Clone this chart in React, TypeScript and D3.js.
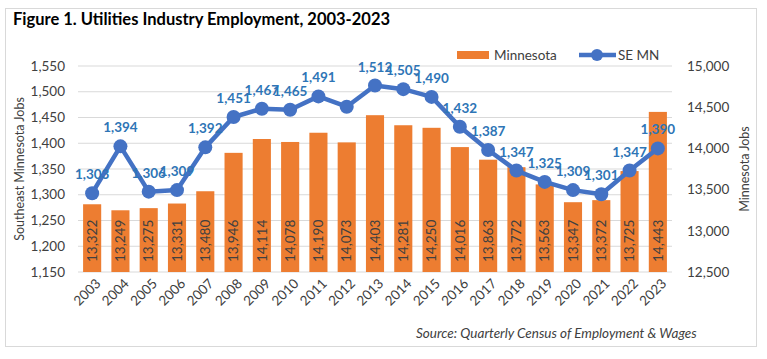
import * as d3 from 'd3'

// values
const years = ['2003', '2004', '2005', '2006', '2007', '2008', '2009', '2010', '2011', '2012', '2013',
  '2014', '2015', '2016', '2017', '2018', '2019', '2020', '2021', '2022', '2023']
const minnesota = [13322, 13249, 13275, 13331, 13480, 13946, 14114, 14078, 14190, 14073, 14403,
  14281, 14250, 14016, 13863, 13772, 13563, 13347, 13372, 13725, 14443]
const seMN = [1303, 1394, 1306, 1309, 1392, 1451, 1467, 1465, 1491, 1471, 1512,
  1505, 1490, 1432, 1387, 1347, 1325, 1309, 1301, 1347, 1390]
// the 2012 point has no label in the original
const unlabeledYears = ['2012']
const leftTicks = [1150, 1200, 1250, 1300, 1350, 1400, 1450, 1500, 1550]
const rightTicks = [12500, 13000, 13500, 14000, 14500, 15000]

const W = 767
const H = 359
const FONT = 'Lato, "Liberation Sans", sans-serif'
const ORANGE = '#ED7D31'
const BLUE = '#4472C4'
const LABEL_BLUE = '#2E75B6'
const GRID = '#D9D9D9'
const TEXT = '#404040'

export default function App() {
  const plot = { left: 78, right: 672, top: 66, bottom: 272 }
  const fmt = d3.format(',')

  const x = d3.scaleBand().domain(years).range([plot.left, plot.right]).paddingInner(0.36).paddingOuter(0.18)
  const yL = d3.scaleLinear().domain([1150, 1550]).range([plot.bottom, plot.top])
  const yR = d3.scaleLinear().domain([12500, 15000]).range([plot.bottom, plot.top])
  const cx = (yr: string) => (x(yr) ?? 0) + x.bandwidth() / 2

  const line = d3.line<number>()
    .x((_, i) => cx(years[i]))
    .y(d => yL(d))

  return (
    <svg width={W} height={H} style={{ position: 'absolute', left: 0, top: 0, background: '#fff' }}
      fontFamily={FONT}>
      <rect x={5.5} y={8.5} width={751} height={338} fill="#fff" stroke={GRID} />

      <text x={13} y={25} fontSize={16.5} fontWeight={700} fill="#000">
        Figure 1. Utilities Industry Employment, 2003-2023
      </text>

      {/* gridlines */}
      {leftTicks.map(t => (
        <line key={t} x1={plot.left} x2={plot.right} y1={yL(t)} y2={yL(t)} stroke={GRID} strokeWidth={1} />
      ))}

      {/* left axis */}
      {leftTicks.map(t => (
        <text key={t} x={65} y={yL(t)} dy="0.35em" textAnchor="end" fontSize={13.5} fill={TEXT}>{fmt(t)}</text>
      ))}
      <text transform={`translate(20,${(plot.top + plot.bottom) / 2}) rotate(-90)`} textAnchor="middle"
        dy="0.35em" fontSize={12.5} fill={TEXT}>Southeast Minnesota Jobs</text>

      {/* right axis */}
      {rightTicks.map(t => (
        <text key={t} x={687} y={yR(t)} dy="0.35em" textAnchor="start" fontSize={13.5} fill={TEXT}>{fmt(t)}</text>
      ))}
      <text transform={`translate(745,${(plot.top + plot.bottom) / 2}) rotate(-90)`} textAnchor="middle"
        dy="0.35em" fontSize={12.5} fill={TEXT}>Minnesota Jobs</text>

      {/* bars */}
      {years.map((yr, i) => (
        <rect key={yr} x={x(yr)} y={yR(minnesota[i])} width={x.bandwidth()}
          height={plot.bottom - yR(minnesota[i])} fill={ORANGE} />
      ))}
      {years.map((yr, i) => (
        <text key={yr} transform={`translate(${cx(yr)},${plot.bottom - 10}) rotate(-90)`}
          dy="0.35em" textAnchor="start" fontSize={13.5} fill={TEXT}>{fmt(minnesota[i])}</text>
      ))}

      {/* x labels */}
      {years.map(yr => (
        <text key={yr} transform={`translate(${cx(yr) + 6},${plot.bottom + 9}) rotate(-45)`}
          textAnchor="end" dy="0.35em" fontSize={13.5} fill={TEXT}>{yr}</text>
      ))}

      {/* SE MN line */}
      <path d={line(seMN) ?? ''} fill="none" stroke={BLUE} strokeWidth={4.5} strokeLinejoin="round" />
      {years.map((yr, i) => (
        <circle key={yr} cx={cx(yr)} cy={yL(seMN[i])} r={7} fill={BLUE} />
      ))}
      {years.map((yr, i) => unlabeledYears.includes(yr) ? null : (
        <text key={yr} x={cx(yr)} y={yL(seMN[i]) - 14} textAnchor="middle" fontSize={13.5}
          fontWeight={700} fill={LABEL_BLUE}>{fmt(seMN[i])}</text>
      ))}

      {/* legend */}
      <rect x={457} y={51} width={32} height={8} fill={ORANGE} />
      <text x={494} y={55} dy="0.35em" fontSize={13.5} fill={TEXT}>Minnesota</text>
      <line x1={579} x2={616} y1={55} y2={55} stroke={BLUE} strokeWidth={4.5} />
      <circle cx={597} cy={55} r={6} fill={BLUE} />
      <text x={618} y={55} dy="0.35em" fontSize={13.5} fill={TEXT}>SE MN</text>

      <text x={416} y={338} fontSize={13.5} fontStyle="italic" fill={TEXT}>
        Source: Quarterly Census of Employment &amp; Wages
      </text>
    </svg>
  )
}
